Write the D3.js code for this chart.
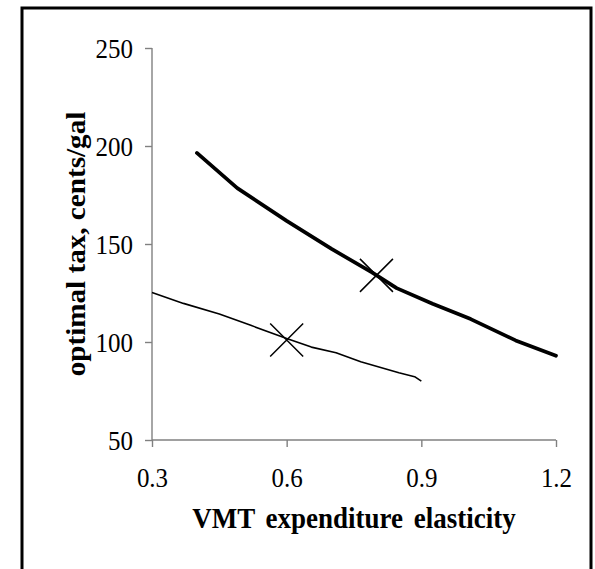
<!DOCTYPE html>
<html><head><meta charset="utf-8">
<script src="https://cdn.jsdelivr.net/npm/d3@7"></script>
<style>html,body{margin:0;padding:0;background:#fff;}svg{display:block;}</style>
</head><body>
<script>
const xTicks = [0.3, 0.6, 0.9, 1.2];
const yTicks = [50, 100, 150, 200, 250];
const thickX = [0.40, 0.49, 0.60, 0.70, 0.79, 0.845, 0.925, 1.01, 1.11, 1.20];
const thickY = [196.5, 178.5, 161.8, 147.5, 135.5, 127.5, 119.5, 111.7, 100.8, 93];
const thinX = [0.30, 0.37, 0.45, 0.52, 0.60, 0.655, 0.71, 0.765, 0.85, 0.885, 0.90];
const thinY = [125.3, 119.7, 114.3, 108.5, 101.8, 97.4, 94.5, 89.9, 84.3, 82.3, 80];
const markX = [0.6, 0.8];
const markY = [101, 134];
const xTitle = "VMT expenditure elasticity";
const yTitle = "optimal tax, cents/gal";

const W = 595, H = 569;
const K = 1.1; // vertical stretch of the text in the original picture
const svg = d3.select("body").append("svg").attr("width", W).attr("height", H);
svg.append("rect").attr("x", 22).attr("y", 8).attr("width", 569).attr("height", 580)
  .attr("fill", "none").attr("stroke", "#000").attr("stroke-width", 3);

const x = d3.scaleLinear().domain([0.3, 1.2]).range([152, 556]);
const y = d3.scaleLinear().domain([50, 250]).range([440, 48]);

const font = "'Liberation Serif','Times New Roman',serif";
const xa = svg.append("g").attr("transform", `translate(0,${y(50)})`)
  .call(d3.axisBottom(x).tickValues(xTicks).tickFormat(d3.format(".1f")).tickSize(7));
const ya = svg.append("g").attr("transform", `translate(${x(0.3)},0)`)
  .call(d3.axisLeft(y).tickValues(yTicks).tickSize(7));
[xa, ya].forEach(g => {
  g.select(".domain").attr("d", null);
  g.selectAll("line").attr("stroke", "#808080").attr("stroke-width", 1.4);
  g.selectAll("text").attr("font-family", font).attr("font-size", 25).attr("fill", "#000");
});
xa.append("line").attr("x1", x(0.3)).attr("x2", x(1.2)).attr("stroke", "#808080").attr("stroke-width", 1.4);
ya.append("line").attr("y1", y(50)).attr("y2", y(250)).attr("stroke", "#808080").attr("stroke-width", 1.4);
xa.selectAll(".tick text").attr("y", 47 / K).attr("dy", 0).attr("transform", `scale(1,${K})`);
ya.selectAll(".tick text").attr("x", -19).attr("dy", "0.33em").attr("transform", `scale(1,${K})`);

const line = d3.line().x(d => x(d[0])).y(d => y(d[1]));
svg.append("path").datum(thinX.map((v, i) => [v, thinY[i]])).attr("d", line)
  .attr("fill", "none").attr("stroke", "#000").attr("stroke-width", 1.6).attr("stroke-linejoin", "round");
svg.append("path").datum(thickX.map((v, i) => [v, thickY[i]])).attr("d", line)
  .attr("fill", "none").attr("stroke", "#000").attr("stroke-width", 3.7)
  .attr("stroke-linecap", "round").attr("stroke-linejoin", "round");

const s = 16.5;
markX.forEach((v, i) => {
  const cx = x(v), cy = y(markY[i]);
  svg.append("path").attr("d", `M${cx - s},${cy - s}L${cx + s},${cy + s}M${cx - s},${cy + s}L${cx + s},${cy - s}`)
    .attr("stroke", "#000").attr("stroke-width", 1.5).attr("fill", "none");
});

svg.append("text").attr("transform", `translate(${(x(0.3) + x(1.2)) / 2},528) scale(1,${K})`)
  .attr("text-anchor", "middle").attr("font-family", font).attr("font-weight", "bold")
  .attr("font-size", 27).attr("word-spacing", 4).text(xTitle);
svg.append("text").attr("transform", `translate(85,${(y(50) + y(250)) / 2}) scale(1,${K}) rotate(-90)`)
  .attr("text-anchor", "middle").attr("font-family", font).attr("font-weight", "bold")
  .attr("font-size", 26.5).text(yTitle);
</script>
</body></html>
